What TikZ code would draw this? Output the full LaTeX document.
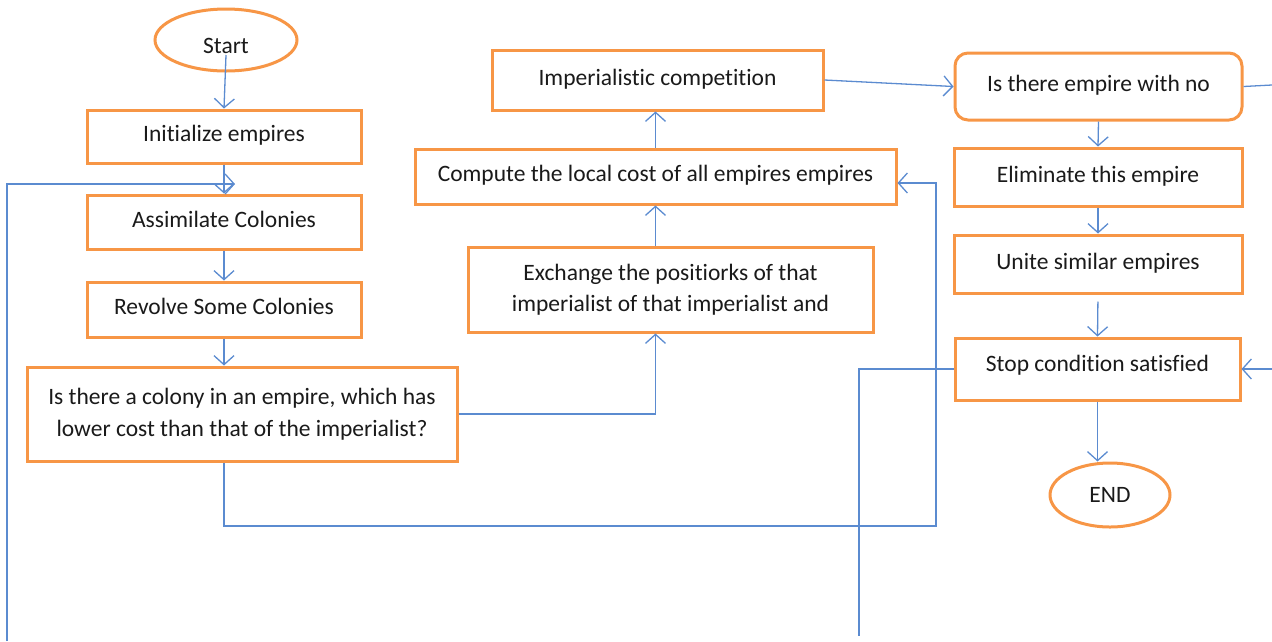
\documentclass[tikz,border=0pt]{standalone}
\usepackage{fontspec}
\setmainfont{Carlito}[RawFeature={-liga}]
\usetikzlibrary{shapes.geometric,arrows.meta}
\definecolor{orng}{HTML}{F79646}
\definecolor{lnblue}{HTML}{5B8BD0}
\definecolor{txtc}{HTML}{1A1A1A}
\begin{document}
\begin{tikzpicture}[x=1pt,y=-1pt,
  box/.style={draw=orng,line width=3pt,fill=white,rectangle,inner sep=0pt,text=txtc,
              font=\fontsize{23.5}{31.5}\selectfont,align=center},
  one/.style={text height=16pt,text depth=6pt},
  oval/.style={draw=orng,line width=3pt,fill=white,ellipse,inner sep=0pt,text=txtc,
              font=\fontsize{23.5}{31.5}\selectfont},
  link/.style={draw=lnblue,line width=1.3pt},
  arr/.style={link,-{Straight Barb[length=9pt,width=20pt]}}]
\useasboundingbox (0,0) rectangle (1272,641);

% left column
\node[oval,text height=32pt,text depth=6pt,minimum width=142pt,minimum height=62pt] (start) at (226,40) {Start};
\node[box,one,minimum width=274pt,minimum height=53pt] (init) at (224,136.5) {Initialize empires};
\node[box,one,minimum width=274pt,minimum height=54pt] (assim) at (224,222) {Assimilate Colonies};
\node[box,one,minimum width=274pt,minimum height=55pt] (revolve) at (224,309.5) {Revolve Some Colonies};
\node[box,minimum width=430pt,minimum height=94pt] (q) at (242,414) {Is there a colony in an empire, which has\\lower cost than that of the imperialist?};

% middle column
\node[box,minimum width=405pt,minimum height=85pt] (exch) at (670.5,289.5) {Exchange the positiorks of that\\imperialist of that imperialist and};
\node[box,one,minimum width=481pt,minimum height=55pt] (comp) at (655.5,176.5) {Compute the local cost of all empires empires};
\node[box,one,minimum width=331pt,minimum height=60pt] (imp) at (657.5,80) {Imperialistic competition};

% right column
\node[box,one,rounded corners=13pt,minimum width=287pt,minimum height=67pt] (isthere) at (1098.5,86.5) {Is there empire with no};
\node[box,one,minimum width=288pt,minimum height=58pt] (elim) at (1098,177) {Eliminate this empire};
\node[box,one,minimum width=288pt,minimum height=58pt] (unite) at (1098,264) {Unite similar empires};
\node[box,text height=16pt,text depth=12pt,minimum width=285pt,minimum height=62pt] (stop) at (1097.5,369) {Stop condition satisfied};
\node[oval,minimum width=120pt,minimum height=64pt] (endn) at (1110,495) {END};

% free ends
\coordinate (leftbot) at (7,641);
\coordinate (loopin) at (235,184);
\coordinate (qcorner) at (936,526);
\coordinate (stopbot) at (859,636);
\coordinate (rtop) at (1272,85);
\coordinate (rmid) at (1272,369);

% connectors
\draw[arr] ([yshift=-15pt]start.center) -- (init.north);
\draw[arr] (init.south) -- (assim.north);
\draw[arr] (leftbot) |- (loopin);
\draw[arr] (assim.south) -- (revolve.north);
\draw[arr] (revolve.south) -- (q.north -| revolve.south);
\draw[arr] (q.east) -| (exch.south -| comp.south);
\draw[arr] (exch.north -| comp.south) -- (comp.south);
\draw[arr] (comp.north) -- (imp.south -| comp.north);
\draw[arr] (q.south -| revolve.south) |- (qcorner) |- (comp.east |- 0,183);
\draw[arr] (imp.east) -- (isthere.west);
\draw[link] (isthere.east) -- (rtop);
\draw[arr] (isthere.south) -- (elim.north);
\draw[arr] (elim.south) -- (unite.north);
\draw[arr,shorten <=7pt] (unite.south) -- (stop.north);
\draw[arr] (rmid) -- (stop.east);
\draw[link] (stop.west) -| (stopbot);
\draw[arr] (stop.south) -- (stop.south |- endn.north);
\end{tikzpicture}
\end{document}
